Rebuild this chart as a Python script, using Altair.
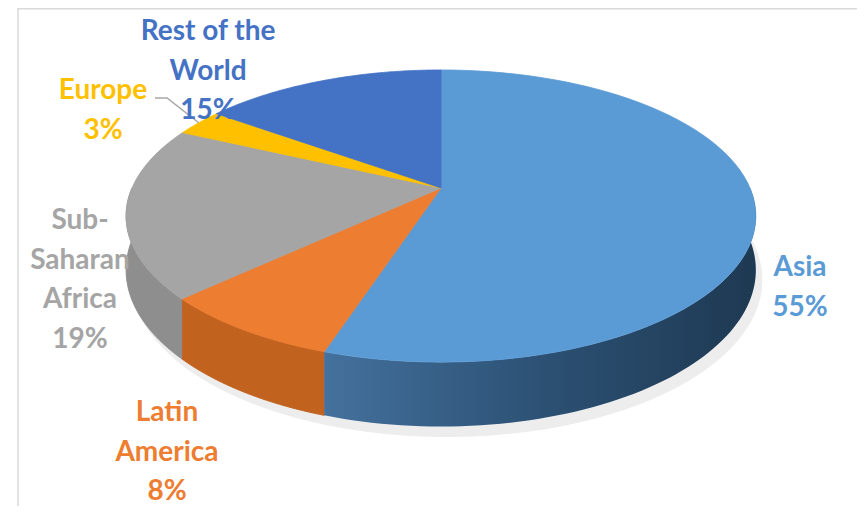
import altair as alt
import pandas as pd

# ---- data ----
regions = ["Asia", "Latin America", "Sub-Saharan Africa", "Europe", "Rest of the World"]
shares = [55, 8, 19, 3, 15]
label_text = ["Asia\n55%", "Latin\nAmerica\n8%", "Sub-\nSaharan\nAfrica\n19%", "Europe\n3%", "Rest of the\nWorld\n15%"]
top_colors = ["#5B9BD5", "#ED7D31", "#A5A5A5", "#FFC000", "#4472C4"]
side_colors = ["#2F5779", "#C2621F", "#8E8E8E", "#CC9A00", "#365B9D"]
# label anchor positions (page pixels, centre of the first line)
label_x = [800, 167, 80, 103, 208]
label_y = [268, 413, 221, 91, 32]

# ---- 3D pie geometry (perspective projection of a tilted disk) ----
CX, CY = 441, 188       # projected centre of the top face
SR, SCR = 309, 140.7    # horizontal / vertical radius factors
KR = 0.192              # perspective strength
D = 52                  # disk thickness
N = 72                  # points per arc

W, H = 849, 498
xs = alt.Scale(domain=[8, 8 + W], nice=False, zero=False)
ys = alt.Scale(domain=[8, 8 + H], nice=False, zero=False, reverse=True)

df = pd.DataFrame({
    "region": regions, "share": shares, "ord": list(range(len(regions))),
    "label": label_text, "topc": top_colors, "sidec": side_colors,
    "lx": label_x, "ly": label_y,
})

base = alt.Chart(df).transform_joinaggregate(
    total="sum(share)"
).transform_window(
    cum="sum(share)", frame=[None, 0], sort=[alt.SortField("ord")]
).transform_calculate(
    a0="2*PI*(datum.cum - datum.share)/datum.total",
    a1="2*PI*datum.cum/datum.total",
)

def px_expr(a, dx=0):
    return f"{CX} + {dx} + {SR}*sin({a})/(1 + {KR}*cos({a}))"

def py_expr(a, depth="0", dy=0):
    return f"{CY} + {dy} - {SCR}*cos({a})/(1 + {KR}*cos({a})) + ({depth})/(1 + {KR}*cos({a}))"

# shadow: bottom face of every slice, slightly offset
shadow = base.transform_calculate(
    k=f"sequence(0, {N + 2})"
).transform_flatten(["k"]).transform_calculate(
    a=f"datum.a0 + (datum.a1 - datum.a0)*(datum.k - 1)/{N}"
).transform_calculate(
    px=f"datum.k == 0 ? {CX + 6} : " + px_expr("datum.a", 6),
    py=f"datum.k == 0 ? {CY + D + 10} : " + py_expr("datum.a", str(D), 10),
).mark_line(interpolate="linear-closed", strokeWidth=1, fill="#EDEDED", stroke="#EDEDED").encode(
    x=alt.X("px:Q", scale=xs, axis=None),
    y=alt.Y("py:Q", scale=ys, axis=None),
    detail="region:N",
    order=alt.Order("k:Q"),
)

# side walls (front half only)
side_src = base.transform_calculate(
    s0="max(datum.a0, PI/2)", s1="min(datum.a1, 3*PI/2)"
).transform_filter("datum.s1 > datum.s0").transform_calculate(
    k=f"sequence(0, {2 * N + 2})"
).transform_flatten(["k"]).transform_calculate(
    bot=f"datum.k > {N} ? 1 : 0",
    a=f"datum.k <= {N} ? datum.s0 + (datum.s1 - datum.s0)*datum.k/{N} : "
      f"datum.s1 - (datum.s1 - datum.s0)*(datum.k - {N} - 1)/{N}",
).transform_calculate(
    px=px_expr("datum.a"),
    py=py_expr("datum.a", f"datum.bot*{D}"),
)

side_enc = dict(
    x=alt.X("px:Q", scale=xs, axis=None),
    y=alt.Y("py:Q", scale=ys, axis=None),
    detail="region:N",
    order=alt.Order("k:Q"),
)

side_other = side_src.transform_filter("datum.region != 'Asia'").mark_line(
    interpolate="linear-closed", strokeWidth=1
).encode(
    fill=alt.Fill("sidec:N", scale=None),
    stroke=alt.Stroke("sidec:N", scale=None),
    **side_enc,
)

asia_grad = alt.LinearGradient(
    gradient="linear",
    stops=[alt.GradientStop(color="#44719D", offset=0),
           alt.GradientStop(color="#2C5174", offset=0.5),
           alt.GradientStop(color="#1E3952", offset=1)],
    x1=0, x2=1, y1=0, y2=0,
)
side_asia = side_src.transform_filter("datum.region == 'Asia'").mark_line(
    interpolate="linear-closed", strokeWidth=1, fill=asia_grad, stroke="#2E5476", strokeOpacity=0
).encode(**side_enc)

# top face wedges
top = base.transform_calculate(
    k=f"sequence(0, {N + 2})"
).transform_flatten(["k"]).transform_calculate(
    a=f"datum.a0 + (datum.a1 - datum.a0)*(datum.k - 1)/{N}"
).transform_calculate(
    px=f"datum.k == 0 ? {CX} : " + px_expr("datum.a"),
    py=f"datum.k == 0 ? {CY} : " + py_expr("datum.a"),
).mark_line(interpolate="linear-closed", strokeWidth=0.8).encode(
    x=alt.X("px:Q", scale=xs, axis=None),
    y=alt.Y("py:Q", scale=ys, axis=None),
    fill=alt.Fill("topc:N", scale=None),
    stroke=alt.Stroke("topc:N", scale=None),
    detail="region:N",
    order=alt.Order("k:Q"),
)

# leader line for Europe
leader = base.transform_filter("datum.region == 'Europe'").transform_calculate(
    k="sequence(0, 3)"
).transform_flatten(["k"]).transform_calculate(
    am="(datum.a0 + datum.a1)/2"
).transform_calculate(
    px="datum.k == 0 ? datum.lx + 52 : datum.k == 1 ? datum.lx + 64 : " + px_expr("datum.am"),
    py="datum.k < 2 ? datum.ly + 7 : " + py_expr("datum.am"),
).mark_line(stroke="#A6A6A6", strokeWidth=1.5).encode(
    x=alt.X("px:Q", scale=xs, axis=None),
    y=alt.Y("py:Q", scale=ys, axis=None),
    order=alt.Order("k:Q"),
)

labels = base.mark_text(
    font="Lato", fontWeight="bold", fontSize=28, lineHeight=39.5,
    lineBreak="\n", align="center", baseline="middle",
).encode(
    x=alt.X("lx:Q", scale=xs, axis=None),
    y=alt.Y("ly:Q", scale=ys, axis=None),
    text="label:N",
    color=alt.Color("topc:N", scale=None),
)

frame_df = pd.DataFrame({"f": [0]})
border_left = alt.Chart(frame_df).mark_rule(color="#D9D9D9", strokeWidth=1.5).encode(
    x=alt.value(10), y=alt.value(0), y2=alt.value(H)
)
border_top = alt.Chart(frame_df).mark_rule(color="#D9D9D9", strokeWidth=1.5).encode(
    x=alt.value(10), x2=alt.value(W), y=alt.value(0.75)
)

chart = alt.layer(
    shadow, side_other, side_asia, top, leader, labels, border_left, border_top
).properties(
    width=W, height=H, padding=0,
    autosize=alt.AutoSizeParams(type="none"),
    background="white",
).configure_view(stroke=None)

chart.save("out.html", embed_options={"renderer": "svg", "actions": False})
